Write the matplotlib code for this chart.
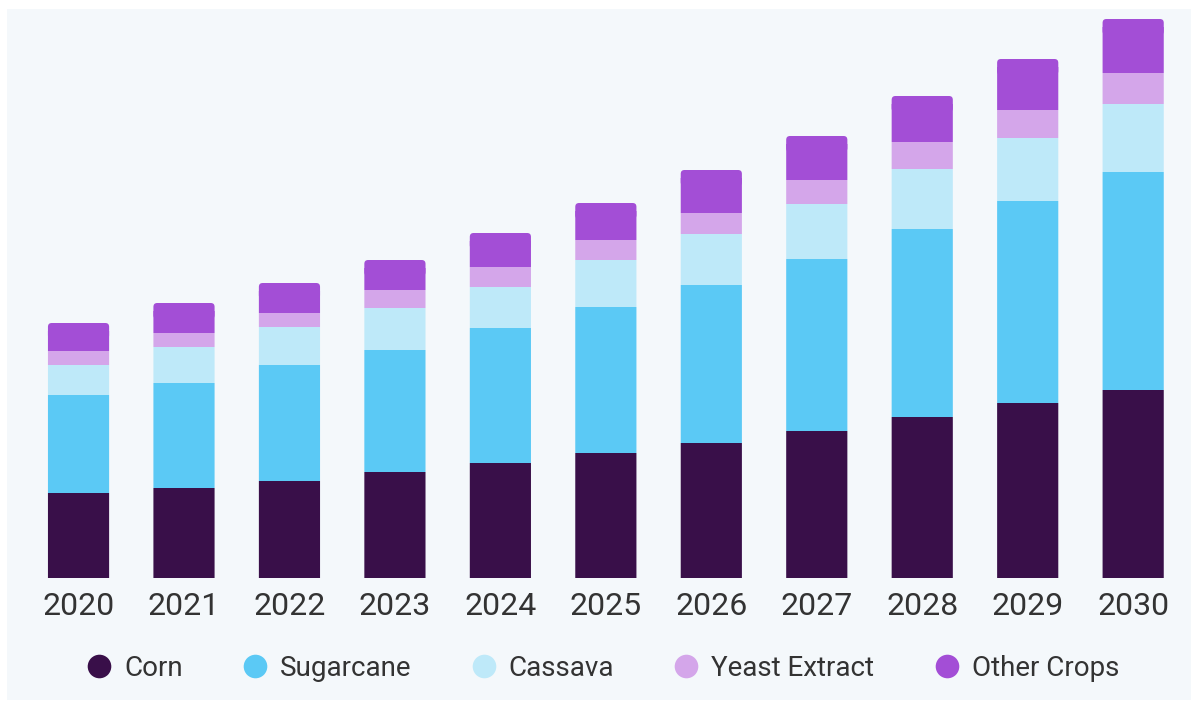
import matplotlib
matplotlib.use("Agg")
import matplotlib.pyplot as plt
from matplotlib.patches import Rectangle, FancyBboxPatch
from matplotlib.lines import Line2D
import numpy as np

years = ["2020", "2021", "2022", "2023", "2024", "2025", "2026", "2027", "2028", "2029", "2030"]
series_names = ["Corn", "Sugarcane", "Cassava", "Yeast Extract", "Other Crops"]
corn = [85, 90, 97, 106, 115, 125, 135, 147, 161, 175, 188]
sugarcane = [98, 105, 116, 122, 135, 146, 158, 172, 188, 202, 218]
cassava = [30, 36, 38, 42, 41, 47, 51, 55, 60, 63, 68]
yeast_extract = [14, 14, 14, 18, 20, 20, 21, 24, 27, 28, 31]
other_crops = [28, 30, 30, 30, 34, 37, 43, 44, 46, 51, 54]
colors = ["#390f49", "#5bc9f5", "#bee9f9", "#d4a6ea", "#a34ed6"]

FONT = ["Roboto", "DejaVu Sans"]
W, H = 1198, 704
fig = plt.figure(figsize=(W / 100, H / 100), dpi=100, facecolor="white")
fig.patches.append(Rectangle((7 / W, 4 / H), (W - 14) / W, (H - 13) / H,
                             transform=fig.transFigure, facecolor="#f4f8fb",
                             edgecolor="none", zorder=-10))

ax = fig.add_axes([25.8 / W, 1 - 578 / H, (1185.9 - 25.8) / W, 568 / H])
ax.set_facecolor("none")
x = np.arange(len(years))
data = [corn, sugarcane, cassava, yeast_extract, other_crops]
bottom = np.zeros(len(years))
width = 0.58
cap = 8.0
for i, (vals, c, name) in enumerate(zip(data, colors, series_names)):
    vals = np.array(vals, dtype=float)
    if i < len(data) - 1:
        bars = ax.bar(x, vals, width, bottom=bottom, color=c, label=name, linewidth=0)
    else:
        bars = ax.bar(x, vals - cap, width, bottom=bottom, color=c, label=name, linewidth=0)
        for xi, b, v in zip(x, bottom, vals):
            ax.add_patch(FancyBboxPatch((xi - width / 2, b + v - 2 * cap), width, 2 * cap,
                                        boxstyle="round,pad=0,rounding_size=0.036",
                                        mutation_aspect=105, snap=False,
                                        facecolor=c, edgecolor="none", linewidth=0))
    for p in bars:
        p.set_snap(False)
    bottom += vals

ax.set_xlim(-0.5, len(years) - 0.5)
ax.set_ylim(0, 568)
ax.set_xticks(x)
ax.set_xticklabels(years, fontsize=23, color="#333333", family=FONT)
ax.tick_params(axis="x", length=0, pad=10)
ax.set_yticks([])
for s in ax.spines.values():
    s.set_visible(False)

handles = [Line2D([], [], marker="o", linestyle="none", markersize=17,
                  markerfacecolor=c, markeredgecolor="none") for c in colors]
fig.legend(handles, series_names, loc="center", bbox_to_anchor=(0.5025, 1 - 668 / H),
           ncol=5, frameon=False, columnspacing=2.1, handlelength=1.0,
           handletextpad=0.4,
           prop={"family": FONT, "size": 20},
           labelcolor="#333333")

fig.savefig("out.png", dpi=100, facecolor=fig.get_facecolor())
